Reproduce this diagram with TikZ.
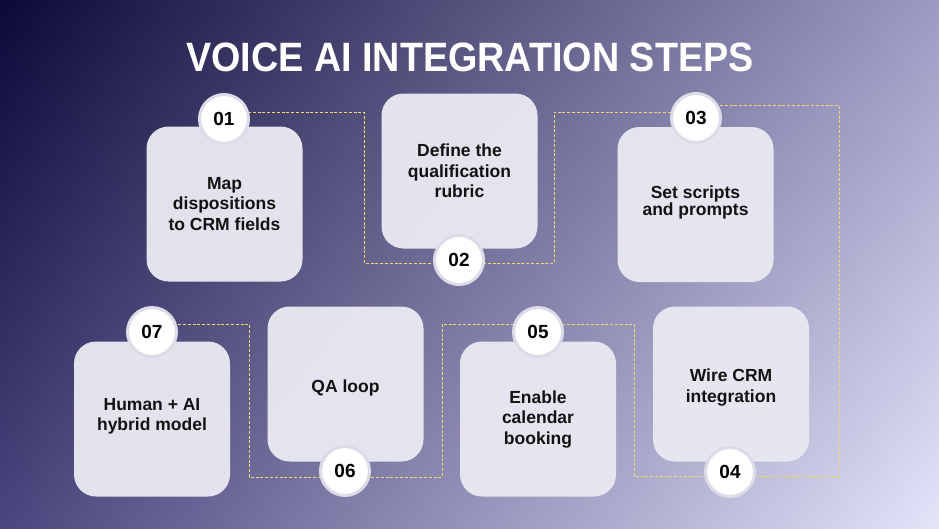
\documentclass[tikz,border=0pt]{standalone}
\usepackage{fontspec}
\setmainfont{Liberation Sans}
\usetikzlibrary{calc,shadings}
\pgfdeclarelayer{bg}
\pgfdeclarelayer{lines}
\pgfsetlayers{bg,lines,main}
\definecolor{tl}{HTML}{0C0838}
\definecolor{tr}{HTML}{9C9AC2}
\definecolor{bl}{HTML}{4A467E}
\definecolor{br}{HTML}{E4E4FA}
\definecolor{boxfill}{HTML}{E8E8F2}
\definecolor{ringc}{HTML}{DCDCE8}
\definecolor{dashc}{HTML}{EED873}
\definecolor{txt}{HTML}{121212}
\begin{document}
\begin{tikzpicture}[x=1pt,y=-1pt,
  stepcard/.style={rectangle, rounded corners=22pt, fill=boxfill, fill opacity=0.97,
    minimum width=156pt, minimum height=155pt, inner sep=0pt},
  cardtext/.style={align=center, text=txt, inner sep=0pt,
    font=\fontsize{17.5}{20.5}\selectfont\bfseries},
  numdisk/.style={circle, fill=white, draw=ringc, line width=3pt, minimum size=49pt,
    inner sep=0pt, text=black, font=\fontsize{19}{22}\selectfont\bfseries},
  conn/.style={draw=dashc, line width=0.9pt, dash pattern=on 3pt off 1.8pt}]
\useasboundingbox (0,0) rectangle (939,528);
\begin{pgfonlayer}{bg}
\shade[upper left=tl, upper right=tr, lower left=bl, lower right=br] (0,0) rectangle (939,528);
\end{pgfonlayer}

\node[text=white, font=\fontsize{41}{44}\selectfont\bfseries] (title) at (470,57)
  {\scalebox{0.92}[1]{VOICE AI INTEGRATION STEPS}};

% cards
\node[stepcard] (b1) at (224.5,204) {};
\node[stepcard] (b2) at (459.5,171) {};
\node[stepcard] (b3) at (695.5,204.5) {};
\node[stepcard] (b4) at (731,384) {};
\node[stepcard] (b5) at (538,419) {};
\node[stepcard] (b6) at (345.5,384) {};
\node[stepcard] (b7) at (152,419) {};

\node[cardtext] (t1) at (224.5,204) {Map\\dispositions\\to CRM fields};
\node[cardtext] (t2) at (459.5,171) {Define the\\qualification\\rubric};
\node[cardtext, font=\fontsize{17.5}{16.5}\selectfont\bfseries] (t3) at (695.5,202.5) {Set scripts\\and prompts};
\node[cardtext] (t4) at (731,387.5) {Wire CRM\\integration};
\node[cardtext] (t5) at (538,419.5) {Enable\\calendar\\booking};
\node[cardtext] (t6) at (345.5,388) {QA loop};
\node[cardtext] (t7) at (152,416.5) {Human + AI\\hybrid model};

% number disks
\node[numdisk] (c1) at (224,119) {01};
\node[numdisk] (c2) at (459,260) {02};
\node[numdisk] (c3) at (696,118) {03};
\node[numdisk] (c4) at (730,472) {04};
\node[numdisk] (c5) at (538,332) {05};
\node[numdisk] (c6) at (345,471) {06};
\node[numdisk] (c7) at (152,332) {07};

% corner points of connectors
\coordinate (k1a) at (364,112);
\coordinate (k1b) at (364,263);
\coordinate (k2a) at (554,263);
\coordinate (k2b) at (554,112);
\coordinate (k3a) at (839,105);
\coordinate (k3b) at (839,476);
\coordinate (k4a) at (634,476);
\coordinate (k4b) at (634,324);
\coordinate (k5a) at (442,324);
\coordinate (k5b) at (442,477);
\coordinate (k6a) at (249,477);
\coordinate (k6b) at (249,324);

\begin{pgfonlayer}{lines}
\draw[conn] (c1 |- k1a) -- (k1a) -- (k1b) -- (c2 |- k1b);
\draw[conn] (c2 |- k2a) -- (k2a) -- (k2b) -- (c3 |- k2b);
\draw[conn] (c3 |- k3a) -- (k3a) -- (k3b) -- (c4 |- k3b);
\draw[conn] (c4 |- k4a) -- (k4a) -- (k4b) -- (c5 |- k4b);
\draw[conn] (c5 |- k5a) -- (k5a) -- (k5b) -- (c6 |- k5b);
\draw[conn] (c6 |- k6a) -- (k6a) -- (k6b) -- (c7 |- k6b);
\end{pgfonlayer}
\end{tikzpicture}
\end{document}
